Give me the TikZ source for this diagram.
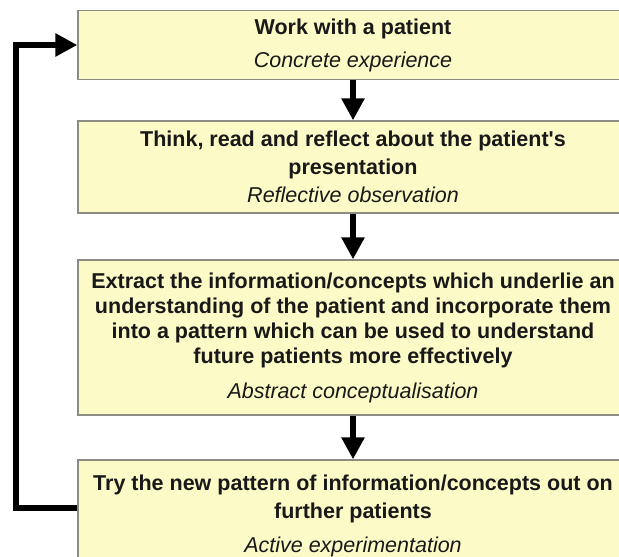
\documentclass[tikz,border=0pt]{standalone}
\usepackage{fontspec}
\setmainfont{Liberation Sans}
\usetikzlibrary{arrows.meta}

\definecolor{stagefill}{RGB}{252,250,198}
\definecolor{stageline}{RGB}{140,140,130}

\tikzset{
	stage/.style={draw=stageline, line width=1.3pt, fill=stagefill, minimum width=550pt,
		align=center, inner sep=0pt, text=black!90,
		font=\fontsize{21.5}{25}\selectfont\bfseries},
	flow/.style={line width=6pt, -{Triangle[width=22pt,length=22pt]}},
	loopback/.style={line width=6pt, line join=miter, -{Triangle[width=22pt,length=22pt]}},
}

\begin{document}
\begin{tikzpicture}[x=1pt, y=-1pt]
		%%%%% START %%%%%
		
		\useasboundingbox (0, 0) rectangle (619, 557);
		\clip (0, 0) rectangle (619, 557);
		
		\node[stage, minimum height=69pt] (work) at (353, 45)
			{Work with a patient\\[8pt] {\mdseries\itshape Concrete experience}};
		
		\node[stage, minimum height=92pt] (think) at (353, 167)
			{Think, read and reflect about the patient\textquotesingle s\\[3pt] presentation\\[3pt] {\mdseries\itshape Reflective observation}};
		
		\node[stage, minimum height=155pt] (extract) at (353, 337.5)
			{Extract the information/concepts which underlie an\\ understanding of the patient and incorporate them\\ into a pattern which can be used to understand\\ future patients more effectively\\[10pt] {\mdseries\itshape Abstract conceptualisation}};
		
		\node[stage, minimum height=112pt] (try) at (353, 516)
			{Try the new pattern of information/concepts out on\\[3pt] further patients\\[9pt] {\mdseries\itshape Active experimentation}};
		
		\draw[flow] (work) -- (think);
		\draw[flow] (think) -- (extract);
		\draw[flow] (extract) -- (try);
		
		% loop back to the first stage
		\coordinate (back) at (16, 508);
		\draw[loopback] (back -| try.west) -- (back) |- (work.west);
		
		%%%%% END %%%%%
	\end{tikzpicture}
\end{document}
